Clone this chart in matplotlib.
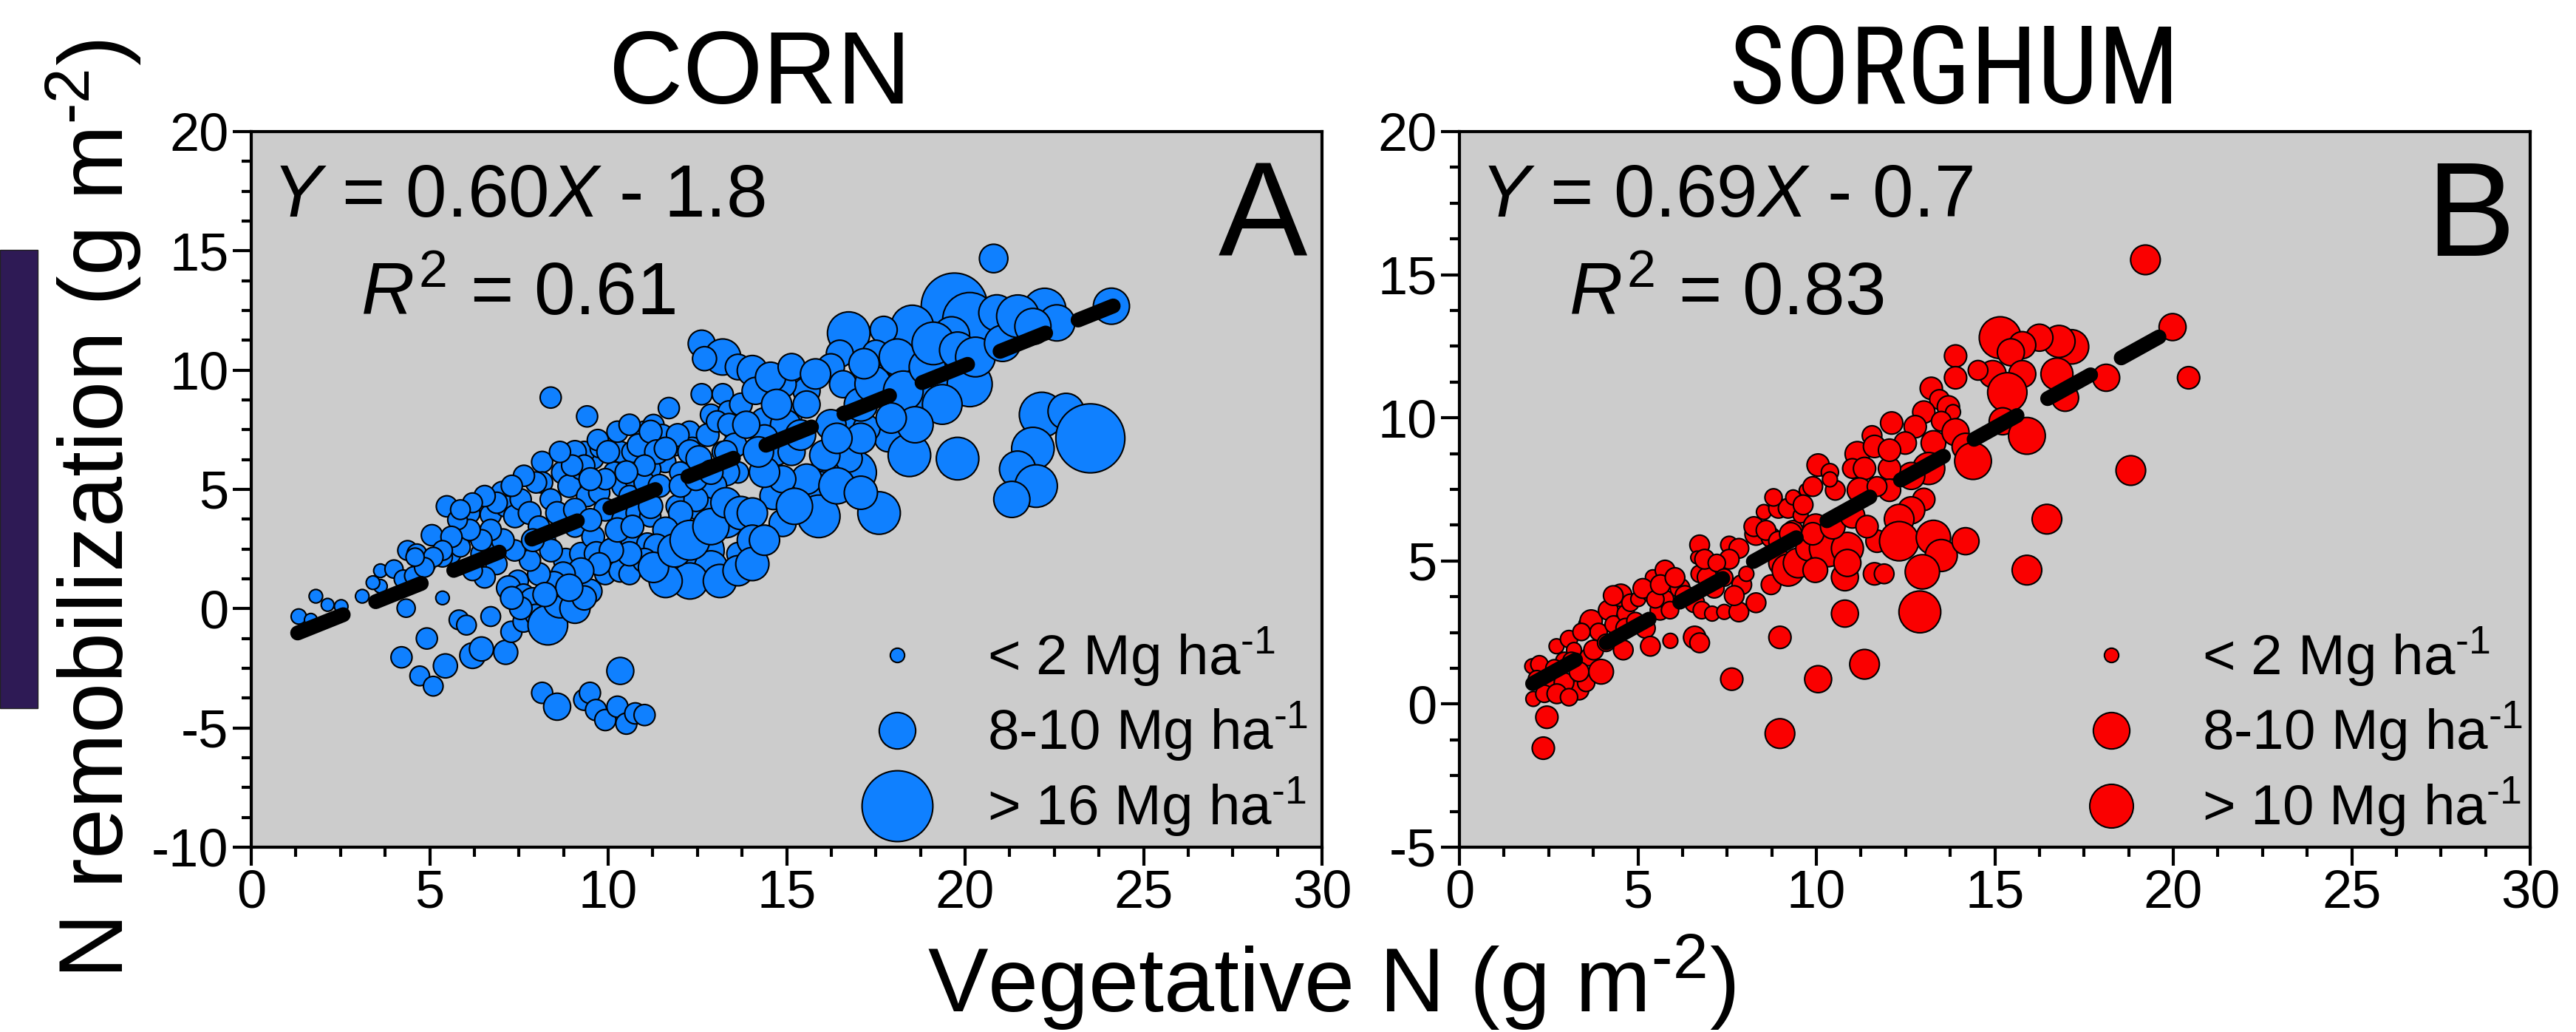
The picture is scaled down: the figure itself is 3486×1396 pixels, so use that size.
import matplotlib
matplotlib.use('Agg')
from matplotlib import pyplot as plt
from matplotlib.lines import Line2D
from matplotlib.patches import Rectangle
from matplotlib.ticker import MultipleLocator, AutoMinorLocator
import numpy as np

plt.rcParams['font.family'] = ['Liberation Sans', 'DejaVu Sans']
plt.rcParams['mathtext.fontset'] = 'custom'
plt.rcParams['mathtext.rm'] = 'Liberation Sans'
plt.rcParams['mathtext.it'] = 'Liberation Sans:italic'
plt.rcParams['mathtext.bf'] = 'Liberation Sans:bold'
plt.rcParams['mathtext.fallback'] = 'stixsans'
plt.rcParams['axes.unicode_minus'] = False

# ---- CORN: vegetative N (g m-2), N remobilization (g m-2), grain yield (Mg ha-1)
corn_x = [1.33, 1.67, 1.81, 2.14, 2.52, 3.11, 3.62, 3.62, 3.41, 4.00,
          4.26, 4.55, 4.38, 4.64, 5.06, 4.89, 5.36, 4.34, 5.48, 5.60,
          5.36, 5.82, 6.03, 6.71, 4.92, 4.21, 4.72, 5.10, 5.44, 6.20,
          6.45, 7.13, 7.29, 6.11, 6.71, 5.95, 5.86, 6.45, 6.79, 7.04,
          7.13, 7.39, 7.55, 7.80, 6.87, 6.54, 6.20, 7.47, 7.21, 7.63,
          7.89, 7.63, 7.97, 8.31, 8.65, 9.07, 8.39, 9.41, 8.15, 8.15,
          8.73, 8.39, 8.91, 9.24, 9.58, 9.33, 9.75, 9.71, 8.57, 8.23,
          8.81, 9.24, 9.07, 9.58, 9.67, 9.92, 10.34, 10.60, 9.49, 9.41,
          9.75, 9.92, 10.17, 10.34, 10.68, 10.42, 10.76, 10.60, 10.42, 10.84,
          10.68, 11.10, 11.02, 11.27, 11.70, 11.52, 11.86, 12.28, 12.36, 11.60,
          12.02, 11.18, 11.02, 11.18, 11.94, 11.86, 12.62, 12.62, 11.94, 12.46,
          12.88, 12.62, 13.21, 12.70, 12.62, 13.21, 12.88, 13.38, 13.55, 13.21,
          13.64, 13.30, 13.64, 10.34, 8.15, 8.57, 9.33, 9.49, 9.66, 9.92,
          10.26, 10.51, 10.76, 11.02,
          9.07, 9.33, 10.00, 10.26, 10.60, 10.85, 11.19, 11.36, 11.95, 11.61,
          12.29, 12.54, 12.79, 13.05, 13.39, 13.55, 13.30, 12.96, 12.46, 12.03,
          11.61, 11.36, 11.02, 10.60, 10.09, 9.75, 9.24, 8.74, 8.48, 8.06,
          7.81, 7.38, 7.05, 6.71, 6.45, 6.12, 5.78, 5.61, 5.36, 5.10,
          4.85, 4.59, 8.40, 8.06, 7.89, 9.07, 9.50, 10.26, 10.68, 11.19,
          11.44, 11.02, 10.51, 9.92, 9.50, 8.99, 8.65, 7.98, 7.64, 7.30,
          6.88, 6.54, 6.20, 5.86, 12.03, 12.46, 12.88, 13.30, 13.72, 13.64,
          12.29, 11.61, 11.27, 11.86, 12.29, 12.88, 13.30, 13.72, 13.13, 13.64,
          9.33, 8.91, 8.23, 7.55, 7.30,
          20.80, 19.70, 20.13, 20.89, 22.23, 22.57, 24.10, 19.62, 18.52, 17.72,
          16.74, 16.49, 17.50, 17.59, 18.69, 19.36, 20.13, 18.60, 17.84, 18.44,
          19.79, 17.59, 16.92, 16.74, 15.90, 15.90, 15.90, 15.14, 15.56, 16.24,
          16.58, 14.89, 14.04, 14.13, 14.37, 14.97, 14.71, 15.14, 16.07, 14.63,
          14.63, 14.04, 14.89, 14.04, 14.04, 22.15, 22.83, 23.51, 21.90, 21.47,
          21.99, 21.31, 16.66, 17.24,
          14.55, 15.14, 15.81, 15.56, 14.72, 14.38, 15.39, 16.24, 17.08, 17.42,
          17.17, 18.10, 18.27, 18.94, 19.11, 19.79, 20.29, 21.05, 21.48, 21.90,
          19.36, 18.60, 17.93, 17.08, 16.41, 15.56, 14.88, 14.38, 16.41, 17.08,
          13.87, 14.21, 15.22, 14.38]
corn_y = [-0.33, -0.47, 0.52, 0.16, 0.09, 0.52, 1.59, 0.94, 1.09, 1.66,
          1.24, 1.38, 2.44, 2.30, 3.08, 1.87, 0.45, 0.02, 4.29, 2.30,
          2.16, -0.47, -0.69, -0.33, -1.25, -2.04, -2.82, -3.25, -2.40, -1.97,
          -1.69, -1.83, -0.97, 4.01, 3.94, 3.15, 2.58, 2.30, 2.87, 4.86,
          4.29, 3.87, 4.58, 4.01, 1.87, 1.31, 1.59, 1.17, 0.87, 0.59,
          0.31, -0.54, -0.26, -0.69, 0.31, 0.02, 8.85, 8.06, 6.15, 5.29,
          5.71, 4.58, 5.14, 5.85, 6.29, 6.57, 6.71, 7.07, 4.01, 2.87,
          2.02, 2.30, 3.44, 3.01, 2.30, 1.45, 1.59, 1.45, 0.73, 4.72,
          4.86, 4.15, 5.71, 6.57, 6.57, 5.14, 5.43, 4.72, 3.73, 4.01,
          2.87, 2.73, 7.42, 7.70, 8.41, 7.28, 6.85, 7.42, 6.71, 6.15,
          5.71, 5.85, 5.29, 3.87, 4.29, 3.44, 4.29, 2.44, 1.73, 1.87,
          1.73, 11.11, 10.55, 10.48, 8.99, 8.99, 8.13, 8.27, 7.42, 6.57,
          5.71, 3.73, 2.30, -2.61, -3.53, -4.11, -3.82, -3.53, -4.25, -4.67,
          -4.11, -4.82, -4.39, -4.46,
          6.57, 6.00, 6.57, 7.42, 7.71, 6.85, 7.42, 6.57, 7.28, 6.71,
          6.57, 6.29, 7.28, 7.85, 7.71, 6.85, 5.72, 5.15, 4.58, 4.01,
          3.30, 2.59, 2.02, 2.30, 2.44, 1.87, 1.59, 1.45, 1.02, 1.45,
          2.02, 2.44, 2.87, 3.30, 2.87, 3.30, 3.72, 3.01, 2.44, 2.16,
          1.73, 2.16, 2.44, 3.44, 2.87, 4.15, 3.72, 3.30, 3.44, 4.29,
          5.15, 6.00, 5.72, 5.43, 5.43, 6.00, 6.57, 5.29, 5.57, 5.15,
          4.44, 4.72, 4.44, 4.15, 5.15, 5.43, 5.72, 6.57, 8.56, 10.13,
          1.16, 1.16, 1.73, 2.44, 2.87, 3.44, 4.44, 4.01, 1.16, 1.59,
          0.45, 0.88, 0.59, 0.02, 0.45,
          14.68, 12.68, 12.12, 12.40, 12.54, 11.98, 12.68, 11.48, 11.83, 11.69,
          11.55, 10.69, 10.69, 9.77, 9.70, 9.70, 9.41, 8.56, 7.14, 6.43,
          6.29, 4.01, 5.71, 6.29, 5.71, 4.86, 3.87, 8.13, 9.13, 10.12,
          9.41, 9.41, 9.98, 9.13, 7.85, 7.70, 6.57, 6.57, 6.43, 5.00,
          4.72, 4.01, 3.59, 2.87, 1.87, 8.13, 8.27, 7.14, 6.71, 5.85,
          5.14, 4.58, 7.99, 7.56,
          9.70, 10.13, 9.84, 8.56, 8.56, 7.14, 7.28, 7.71, 8.56, 9.42,
          10.27, 10.55, 9.13, 10.13, 11.12, 10.84, 10.55, 11.12, 12.26, 11.83,
          8.56, 7.71, 7.99, 7.14, 7.14, 5.43, 5.43, 5.72, 5.15, 4.86,
          7.71, 6.57, 4.29, 2.87]
corn_yield = [1.8, 1.0, 1.25, 1.0, 1.25, 1.25, 1.25, 1.25, 1.25, 2.8,
              2.8, 2.8, 3.3, 3.3, 3.8, 3.3, 1.25, 2.8, 3.8, 3.3,
              3.3, 3.3, 3.3, 3.3, 3.8, 3.8, 3.3, 3.3, 4.8, 5.3,
              4.8, 4.8, 3.8, 3.8, 3.8, 3.8, 3.3, 3.8, 4.3, 4.3,
              3.8, 4.3, 3.8, 4.3, 3.8, 3.8, 3.3, 3.8, 4.8, 3.8,
              5.8, 3.8, 3.8, 9.9, 7.9, 6.9, 3.8, 3.8, 3.8, 3.8,
              4.3, 3.8, 4.3, 3.8, 3.8, 3.8, 2.8, 3.8, 4.3, 3.8,
              4.8, 4.3, 3.8, 4.3, 4.8, 3.8, 4.3, 3.8, 4.8, 3.8,
              3.8, 4.3, 3.8, 3.8, 3.8, 4.3, 3.8, 3.8, 4.3, 4.8,
              4.3, 3.8, 3.8, 3.8, 3.8, 3.8, 3.8, 3.8, 4.3, 3.8,
              3.8, 3.8, 3.8, 3.8, 4.3, 4.3, 6.9, 11.3, 8.9, 6.9,
              7.9, 5.8, 8.9, 4.8, 3.8, 3.8, 3.8, 3.8, 3.8, 3.8,
              3.8, 8.9, 4.3, 5.8, 3.8, 5.8, 3.8, 3.8, 3.8, 3.8,
              3.8, 3.8, 3.8, 3.8,
              4.3, 3.8, 4.3, 3.8, 3.8, 4.3, 4.3, 4.8, 4.3, 4.3,
              4.8, 5.3, 4.3, 3.8, 4.3, 4.8, 5.8, 5.3, 4.8, 4.8,
              5.3, 5.3, 4.8, 4.8, 4.8, 4.3, 5.3, 4.8, 5.3, 4.3,
              3.8, 3.8, 4.3, 3.8, 3.8, 3.8, 3.3, 3.8, 3.3, 3.3,
              3.3, 2.8, 4.3, 3.8, 4.3, 4.3, 4.3, 4.8, 4.3, 4.8,
              4.3, 3.8, 4.3, 3.8, 4.3, 3.8, 3.8, 3.8, 3.8, 3.8,
              3.8, 3.8, 3.3, 3.3, 4.3, 4.3, 4.8, 4.3, 4.3, 5.3,
              8.9, 7.9, 6.9, 7.9, 9.9, 8.9, 6.9, 7.9, 7.9, 6.9,
              4.8, 5.8, 4.8, 4.3, 4.3,
              6.3, 16.0, 13.3, 8.9, 10.7, 8.9, 8.9, 8.9, 10.7, 5.8,
              10.7, 5.8, 5.8, 3.8, 6.9, 6.9, 11.3, 12.0, 5.8, 10.7,
              10.7, 10.7, 10.7, 5.8, 3.8, 10.7, 10.7, 3.8, 5.8, 5.8,
              5.8, 5.8, 6.9, 5.8, 5.8, 6.9, 5.8, 5.8, 6.9, 3.8,
              5.8, 6.9, 5.8, 6.9, 7.9, 11.3, 8.9, 16.6, 10.7, 8.9,
              10.7, 8.9, 4.8, 5.8,
              6.9, 5.8, 6.9, 5.8, 6.9, 5.8, 6.9, 6.9, 7.9, 8.9,
              6.9, 8.9, 9.9, 8.9, 10.7, 8.9, 9.9, 8.9, 10.7, 8.9,
              9.9, 8.9, 6.9, 6.9, 6.9, 6.9, 5.8, 6.9, 8.9, 7.9,
              5.8, 6.9, 8.9, 6.9]

# ---- SORGHUM
sorg_x = [2.35, 2.45, 2.07, 2.04, 2.24, 2.52, 2.72, 3.07, 2.94, 3.21,
          3.35, 3.55, 3.62, 3.97, 3.55, 3.69, 3.90, 4.17, 4.32, 4.52,
          4.66, 4.79, 4.59, 5.01, 5.21, 5.35, 5.42, 5.42, 5.76, 5.62,
          5.91, 6.18, 5.76, 6.59, 6.73, 6.59, 6.79, 7.08, 7.42, 7.83,
          8.31, 6.73, 6.66, 6.73, 6.94, 7.14, 7.56, 7.83, 7.56, 7.91,
          8.04, 8.31, 8.53, 8.73, 8.94, 9.21, 8.73, 9.01, 9.21, 9.35,
          9.56, 9.35, 9.70, 9.90, 9.49, 9.77, 10.05, 9.98, 10.32, 10.87,
          10.80, 10.05, 10.38, 10.53, 10.38, 11.15, 11.56, 11.63, 10.80, 8.98,
          7.63, 10.05, 11.35, 8.98, 11.70, 11.63, 19.22, 19.98, 20.43, 18.81,
          16.46, 15.90, 18.12, 16.97, 17.15, 16.80, 16.25, 15.15, 15.77, 15.45,
          14.94, 14.53, 15.77, 15.35, 16.74, 15.22, 15.90, 13.90, 13.90, 13.22,
          13.45, 13.70, 13.83, 13.01, 13.50, 12.77, 12.11, 12.49, 13.28, 13.90,
          14.18, 14.39, 13.15, 12.66, 12.05, 12.05, 13.01, 12.66, 12.32, 12.32,
          13.28, 13.50, 14.18, 12.97, 12.90, 11.90, 12.05,
          2.17, 2.38, 2.66, 2.93, 3.14, 3.35, 2.73, 3.07, 3.42, 3.76,
          4.11, 4.31, 4.66, 4.93, 5.14, 5.49, 5.63, 6.04, 6.32, 5.90,
          6.87, 7.21, 7.42, 7.70, 8.25, 8.59, 8.94, 9.28, 8.80, 9.63,
          9.90, 10.46, 11.01, 11.35, 11.21, 11.70, 11.01, 11.42, 10.87, 9.97]
sorg_y = [-1.54, -0.46, 0.18, 1.32, 1.39, 0.62, 2.02, 2.27, 1.51, 1.89,
          0.49, 0.74, 1.64, 1.13, 2.78, 2.90, 2.52, 3.28, 2.78, 3.80,
          3.16, 3.54, 1.89, 3.67, 2.65, 2.02, 3.92, 4.43, 4.68, 3.28,
          2.21, 4.05, 3.67, 2.33, 2.14, 3.54, 3.28, 3.16, 3.22, 3.22,
          3.54, 5.56, 5.12, 4.55, 4.43, 4.05, 5.56, 5.44, 5.06, 4.17,
          4.55, 5.94, 6.71, 5.82, 6.84, 6.84, 4.17, 4.93, 4.68, 6.07,
          6.59, 7.22, 7.47, 7.60, 4.93, 5.44, 5.06, 6.21, 5.44, 5.44,
          4.43, 8.35, 8.10, 7.47, 7.85, 8.74, 9.38, 9.00, 3.16, 2.33,
          0.87, 0.87, 1.39, -1.03, 5.69, 4.55, 15.52, 13.17, 11.40, 8.16,
          6.46, 4.68, 11.40, 10.70, 12.48, 12.67, 12.80, 12.80, 12.54, 12.29,
          11.53, 11.66, 11.53, 10.89, 11.53, 9.88, 9.37, 12.16, 11.40, 11.03,
          10.64, 10.38, 10.20, 10.20, 9.88, 9.69, 9.82, 9.12, 9.12, 9.50,
          8.99, 8.49, 8.23, 7.97, 8.23, 7.47, 7.15, 6.77, 6.46, 5.69,
          5.82, 5.19, 5.69, 4.62, 3.22, 4.55, 8.87,
          0.87, 0.36, 1.25, 0.75, 1.51, 1.13, 0.36, 0.24, 2.52, 1.89,
          2.14, 3.79, 2.65, 2.90, 4.04, 3.66, 4.17, 4.42, 3.79, 3.28,
          5.06, 4.93, 4.42, 3.79, 6.20, 6.07, 5.69, 5.95, 7.22, 6.96,
          5.95, 6.20, 8.23, 8.23, 7.47, 7.60, 6.58, 6.20, 4.93, 4.68]
sorg_yield = [4.2, 4.2, 1.7, 1.7, 2.5, 2.5, 1.7, 2.5, 2.5, 1.7,
              3.3, 2.5, 2.5, 5.0, 1.7, 4.2, 2.5, 3.3, 2.5, 4.2,
              2.5, 2.5, 3.3, 1.7, 3.3, 3.3, 4.2, 1.7, 3.3, 3.3,
              1.7, 3.3, 2.5, 4.2, 3.3, 3.3, 2.5, 1.7, 1.7, 3.3,
              3.3, 3.3, 1.0, 2.5, 3.3, 3.3, 2.5, 3.3, 3.3, 3.3,
              1.7, 4.2, 1.7, 3.3, 3.3, 3.3, 3.3, 5.0, 7.5, 3.3,
              1.7, 1.7, 1.0, 3.3, 6.7, 5.0, 1.7, 5.0, 9.1, 7.5,
              5.8, 4.2, 2.5, 3.3, 1.7, 5.0, 3.3, 4.2, 5.8, 4.2,
              4.2, 5.8, 6.7, 6.7, 4.2, 4.2, 6.7, 5.8, 4.2, 6.7,
              6.7, 6.7, 5.8, 5.8, 8.3, 7.5, 5.8, 10.5, 5.8, 5.8,
              5.8, 3.3, 5.8, 9.8, 7.5, 5.8, 9.1, 4.2, 4.2, 4.2,
              3.3, 4.2, 1.7, 4.2, 3.3, 4.2, 4.2, 4.2, 5.0, 5.8,
              5.8, 9.1, 7.5, 5.8, 4.2, 4.2, 4.2, 5.8, 6.7, 9.8,
              8.3, 7.5, 5.8, 8.3, 10.5, 3.3, 4.2,
              2.5, 2.5, 2.5, 3.3, 2.5, 3.3, 3.3, 2.5, 2.5, 3.3,
              2.5, 3.3, 3.3, 2.5, 3.3, 2.5, 3.3, 3.3, 3.3, 2.5,
              3.3, 2.5, 2.5, 3.3, 3.3, 3.3, 3.3, 4.2, 2.5, 3.3,
              4.2, 5.0, 3.3, 4.2, 5.0, 3.3, 5.0, 4.2, 5.8, 5.0]

# regression fits: slope, intercept, x range of the fitted line
corn_fit = (0.60, -1.8, 1.3, 24.15)
sorg_fit = (0.69, -0.7, 2.05, 19.6)

corn_legend = ['< 2 Mg ha$^{\u20101}$', '8-10 Mg ha$^{\u20101}$', '> 16 Mg ha$^{\u20101}$']
corn_legend_yield = [1.5, 9, 17]
sorg_legend = ['< 2 Mg ha$^{\u20101}$', '8-10 Mg ha$^{\u20101}$', '> 10 Mg ha$^{\u20101}$']
sorg_legend_yield = [1.5, 9, 11]

# yield -> marker diameter (pt)
size_yield = [1, 9, 11, 17]
size_pt = [12.5, 35.5, 42.5, 69]


def marker_diam(yields):
    return np.interp(yields, size_yield, size_pt)


def draw_panel(ax, x, y, yld, fit, color, ymin, title, title_x, title_font, title_size,
               eq, r2, letter, leg_labels, leg_yields, leg_x):
    ax.set_facecolor('#cccccc')
    ax.scatter(x, y, s=marker_diam(yld) ** 2, c=color, edgecolors='black',
               linewidths=1.5, zorder=3)

    slope, icpt, x0, x1 = fit
    xs = np.array([x0, x1])
    ax.plot(xs, slope * xs + icpt, color='black', lw=14.5, dashes=(3.3, 2.35),
            dash_capstyle='round', solid_capstyle='round', zorder=4)

    ax.set_xlim(0, 30)
    ax.set_ylim(ymin, 20)
    ax.xaxis.set_major_locator(MultipleLocator(5))
    ax.xaxis.set_minor_locator(AutoMinorLocator(4))
    ax.yaxis.set_major_locator(MultipleLocator(5))
    ax.yaxis.set_minor_locator(AutoMinorLocator(4))
    ax.tick_params(which='both', direction='out', width=3, labelsize=52,
                   top=False, right=False)
    ax.tick_params(which='major', length=18)
    ax.tick_params(which='minor', length=9.5)
    ax.tick_params(axis='x', pad=3)
    ax.tick_params(axis='y', pad=4)
    for s in ax.spines.values():
        s.set_linewidth(3)

    ax.text(title_x, 1.039, title, transform=ax.transAxes, fontsize=title_size,
            family=title_font, fontstretch='condensed', ha='center', va='baseline')
    ax.text(0.019, 0.881, eq, transform=ax.transAxes, fontsize=72,
            ha='left', va='baseline')
    ax.text(0.102, 0.743, r2, transform=ax.transAxes, fontsize=72,
            ha='left', va='baseline')
    ax.text(0.986, 0.826, letter, transform=ax.transAxes, fontsize=130,
            ha='right', va='baseline')

    handles = [Line2D([], [], ls='none', marker='o', markersize=marker_diam(v),
                      markerfacecolor=color, markeredgecolor='black',
                      markeredgewidth=1.5) for v in leg_yields]
    ax.legend(handles, leg_labels, loc='lower left', bbox_to_anchor=(leg_x, 0.012),
              frameon=False, fontsize=55, handlelength=1.4, handletextpad=0.9,
              labelspacing=0.22, borderpad=0, borderaxespad=0)


fig = plt.figure(figsize=(34.86, 13.96), dpi=100)
ax1 = fig.add_axes([340 / 3486, 250 / 1396, 1449 / 3486, 968 / 1396])
ax2 = fig.add_axes([1975 / 3486, 250 / 1396, 1449 / 3486, 968 / 1396])

draw_panel(ax1, corn_x, corn_y, corn_yield, corn_fit, '#0f80ff', -10, 'CORN', 0.475,
           ['Liberation Sans', 'DejaVu Sans'], 100,
           '$Y$ = 0.60$X$ - 1.8', '$R^2$ = 0.61', 'A',
           corn_legend, corn_legend_yield, 0.566)
draw_panel(ax2, sorg_x, sorg_y, sorg_yield, sorg_fit, '#fa0000', -5, 'SORGHUM', 0.462,
           ['Liberation Sans Narrow', 'Arial Narrow', 'Roboto Condensed',
            'Open Sans Condensed', 'Liberation Sans'], 105,
           '$Y$ = 0.69$X$ - 0.7', '$R^2$ = 0.83', 'B',
           sorg_legend, sorg_legend_yield, 0.572)

fig.text(0.0479, 0.5065, 'N remobilization (g m$^{\u20102}$)', rotation=90,
         rotation_mode='anchor', ha='center', va='baseline', fontsize=88)
fig.text(0.517, 0.019, 'Vegetative N (g m$^{\u20102}$)', ha='center', va='baseline',
         fontsize=88)

# slide-deck side bar at the left edge
fig.add_artist(Rectangle((0, 438 / 1396), 51 / 3486, 620 / 1396,
                         transform=fig.transFigure, facecolor='#2e1a55',
                         edgecolor='#222222', lw=1))

fig.savefig('out.png', dpi=100)
